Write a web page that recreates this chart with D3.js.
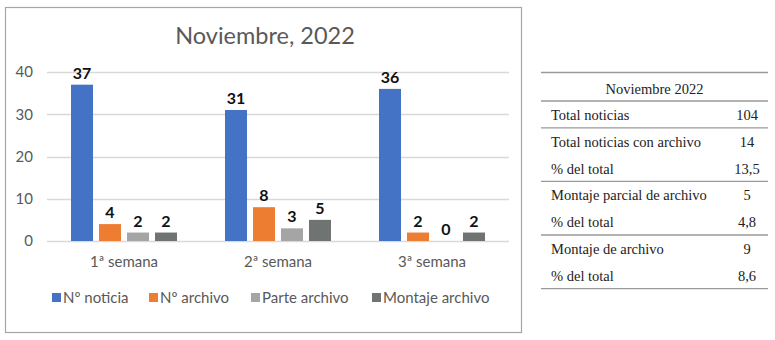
<!DOCTYPE html>
<html>
<head>
<meta charset="utf-8">
<script src="https://cdn.jsdelivr.net/npm/d3@7"></script>
<style>
  body { margin: 0; background: #fff; }
  svg { display: block; }
</style>
</head>
<body>
<div id="chart"></div>
<script>
var categories = ["1ª semana", "2ª semana", "3ª semana"];
var seriesNames = ["Nº noticia", "Nº archivo", "Parte archivo", "Montaje archivo"];
var noticia = [37, 31, 36];
var archivo = [4, 8, 2];
var parteArchivo = [2, 3, 0];
var montajeArchivo = [2, 5, 2];
var yTicks = [0, 10, 20, 30, 40];

var tableTitle = "Noviembre 2022";
var tableLabels = ["Total noticias", "Total noticias con archivo", "% del total",
    "Montaje parcial de archivo", "% del total", "Montaje de archivo", "% del total"];
var tableValues = ["104", "14", "13,5", "5", "4,8", "9", "8,6"];

var colors = ["#4472C4", "#ED7D31", "#A5A5A5", "#6F7372"];
var seriesValues = [noticia, archivo, parteArchivo, montajeArchivo];

var width = 775, height = 340;
var margin = { top: 72, right: 266, bottom: 99, left: 47 };

var svg = d3.select("#chart")
    .append("svg")
    .attr("width", width)
    .attr("height", height);

// chart frame
svg.append("rect")
    .attr("x", 5.5)
    .attr("y", 7.5)
    .attr("width", 516)
    .attr("height", 325)
    .attr("fill", "#fff")
    .attr("stroke", "#a6a6a6")
    .attr("stroke-width", 1.2);

svg.append("text")
    .attr("x", 265)
    .attr("y", 44)
    .attr("text-anchor", "middle")
    .attr("font-family", "Lato")
    .attr("font-size", "23.5px")
    .attr("fill", "#595959")
    .text("Noviembre, 2022");

var x = d3.scaleBand()
    .domain(categories)
    .range([margin.left, width - margin.right]);

var xInner = d3.scaleBand()
    .domain(seriesNames)
    .range([24, x.bandwidth() - 24])
    .paddingInner(0.214);

var y = d3.scaleLinear()
    .domain([0, 40])
    .range([height - margin.bottom, margin.top]);

// gridlines
svg.append("g")
    .selectAll("line")
    .data(yTicks)
    .enter()
    .append("line")
    .attr("x1", margin.left)
    .attr("x2", width - margin.right)
    .attr("y1", function (d) { return Math.round(y(d)) + 0.5; })
    .attr("y2", function (d) { return Math.round(y(d)) + 0.5; })
    .attr("stroke", "#d9d9d9")
    .attr("stroke-width", 1.5);

var yAxis = d3.axisLeft(y)
    .tickValues(yTicks)
    .tickSize(0)
    .tickPadding(14);

var gy = svg.append("g")
    .attr("transform", "translate(" + margin.left + ",0)")
    .call(yAxis);
gy.select(".domain").remove();
gy.selectAll("text")
    .attr("font-family", "Lato")
    .attr("font-size", "15px")
    .attr("fill", "#595959");

var xAxis = d3.axisBottom(x)
    .tickSize(0)
    .tickPadding(15);

var gx = svg.append("g")
    .attr("transform", "translate(0," + y(0) + ")")
    .call(xAxis);
gx.select(".domain").remove();
gx.selectAll("text")
    .attr("font-family", "Lato")
    .attr("font-size", "15px")
    .attr("fill", "#595959");

var bars = [];
categories.forEach(function (c, i) {
    seriesNames.forEach(function (s, j) {
        bars.push({ category: c, series: s, value: seriesValues[j][i], color: colors[j] });
    });
});

var groups = svg.selectAll(".bar-g")
    .data(bars)
    .enter()
    .append("g")
    .attr("class", "bar-g");

groups.append("rect")
    .attr("x", function (d) { return x(d.category) + xInner(d.series); })
    .attr("y", function (d) { return y(d.value); })
    .attr("width", xInner.bandwidth())
    .attr("height", function (d) { return y(0) - y(d.value); })
    .attr("fill", function (d) { return d.color; });

groups.append("text")
    .attr("x", function (d) { return x(d.category) + xInner(d.series) + xInner.bandwidth() / 2; })
    .attr("y", function (d) { return y(d.value) - 6; })
    .attr("text-anchor", "middle")
    .attr("font-family", "Lato")
    .attr("font-weight", "bold")
    .attr("font-size", "16px")
    .attr("fill", "#111")
    .text(function (d) { return d.value; });

// legend
var legendX = [52, 149, 251, 372];
var legend = svg.selectAll(".legend")
    .data(seriesNames)
    .enter()
    .append("g")
    .attr("class", "legend")
    .attr("transform", function (d, i) { return "translate(" + legendX[i] + ",293)"; });

legend.append("rect")
    .attr("width", 9)
    .attr("height", 9)
    .attr("fill", function (d, i) { return colors[i]; });

legend.append("text")
    .attr("x", 11)
    .attr("y", 9.5)
    .attr("font-family", "Lato")
    .attr("font-size", "15px")
    .attr("fill", "#595959")
    .text(function (d) { return d; });

// table on the right
var tLeft = 541, tRight = 768, valueX = 747;
var rowY = d3.scaleLinear().domain([0, 7]).range([101, 288.6]);

var table = svg.append("g")
    .attr("font-family", "Liberation Serif")
    .attr("font-size", "14.5px")
    .attr("fill", "#222");

table.append("text")
    .attr("x", (tLeft + tRight) / 2)
    .attr("y", 94)
    .attr("text-anchor", "middle")
    .text(tableTitle);

var lineRows = [0, 1, 3, 5, 7];
table.append("line")
    .attr("x1", tLeft).attr("x2", tRight)
    .attr("y1", 72.5).attr("y2", 72.5)
    .attr("stroke", "#9a9a9a")
    .attr("stroke-width", 1.3);
table.selectAll(".sep")
    .data(lineRows)
    .enter()
    .append("line")
    .attr("class", "sep")
    .attr("x1", tLeft).attr("x2", tRight)
    .attr("y1", function (d) { return rowY(d); })
    .attr("y2", function (d) { return rowY(d); })
    .attr("stroke", "#9a9a9a")
    .attr("stroke-width", 1.3);

table.selectAll(".tlabel")
    .data(tableLabels)
    .enter()
    .append("text")
    .attr("class", "tlabel")
    .attr("x", 551)
    .attr("y", function (d, i) { return rowY(i) + 19; })
    .text(function (d) { return d; });

table.selectAll(".tvalue")
    .data(tableValues)
    .enter()
    .append("text")
    .attr("class", "tvalue")
    .attr("x", valueX)
    .attr("y", function (d, i) { return rowY(i) + 19; })
    .attr("text-anchor", "middle")
    .text(function (d) { return d; });
</script>
</body>
</html>
